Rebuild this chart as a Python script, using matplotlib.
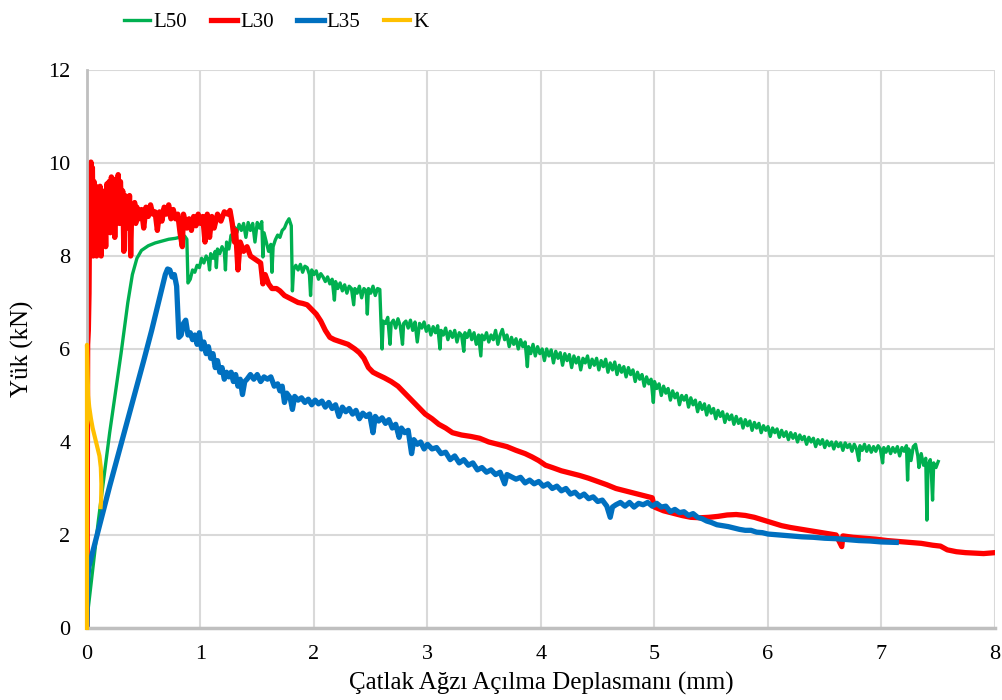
import matplotlib.pyplot as plt

plt.rcParams['font.family'] = ['Liberation Serif', 'DejaVu Serif']

# L30 (red)
l30_x = [0.000, 0.003, 0.006, 0.012, 0.018, 0.022, 0.028, 0.035, 0.042, 0.048,
         0.055, 0.062, 0.070, 0.078, 0.085, 0.095, 0.105, 0.115, 0.125, 0.135,
         0.145, 0.155, 0.165, 0.175, 0.185, 0.195, 0.205, 0.215, 0.225, 0.235,
         0.245, 0.255, 0.265, 0.275, 0.285, 0.295, 0.305, 0.315, 0.325, 0.335,
         0.345, 0.355, 0.365, 0.375, 0.385, 0.395, 0.41, 0.42, 0.43, 0.44,
         0.46, 0.48, 0.50, 0.52, 0.54, 0.56, 0.58, 0.60, 0.62, 0.64,
         0.66, 0.68, 0.70, 0.72, 0.74, 0.76, 0.78, 0.80, 0.82, 0.84,
         0.85, 0.88, 0.90, 0.92, 0.94, 0.96, 0.98, 1.00, 1.02, 1.04,
         1.06, 1.08, 1.10, 1.12, 1.15, 1.18, 1.21, 1.24, 1.26, 1.28,
         1.30, 1.31, 1.33, 1.35, 1.38, 1.41, 1.44, 1.47, 1.50, 1.53,
         1.55, 1.57, 1.60, 1.63, 1.67, 1.70, 1.74, 1.78, 1.82, 1.86,
         1.90, 1.94, 1.98, 2.02, 2.06, 2.10, 2.14, 2.18, 2.24, 2.30,
         2.36, 2.40, 2.44, 2.48, 2.52, 2.56, 2.62, 2.68, 2.74, 2.80,
         2.86, 2.92, 2.98, 3.04, 3.10, 3.16, 3.22, 3.30, 3.38, 3.46,
         3.54, 3.62, 3.70, 3.78, 3.86, 3.92, 3.98, 4.04, 4.10, 4.18,
         4.26, 4.34, 4.42, 4.50, 4.58, 4.66, 4.74, 4.82, 4.90, 4.98,
         5.00, 5.08, 5.16, 5.24, 5.32, 5.40, 5.48, 5.56, 5.64, 5.72,
         5.80, 5.88, 5.96, 6.04, 6.12, 6.20, 6.30, 6.40, 6.50, 6.60,
         6.65, 6.66, 6.75, 6.85, 6.95, 7.05, 7.15, 7.25, 7.35, 7.45,
         7.52, 7.58, 7.66, 7.74, 7.82, 7.90, 8.00]
l30_y = [0.0, 3.0, 6.1, 6.4, 7.2, 8.6, 9.4, 10.02, 9.7, 9.9,
         8.0, 9.6, 8.3, 9.5, 8.0, 9.3, 8.8, 9.5, 8.0, 9.4,
         8.6, 9.2, 8.2, 9.55, 8.8, 9.6, 8.5, 9.7, 9.0, 9.65,
         8.4, 9.5, 9.1, 9.75, 8.7, 9.6, 9.0, 9.4, 8.1, 9.3,
         8.9, 9.2, 8.6, 9.3, 8.0, 9.1, 8.9, 9.15, 8.7, 9.05,
         8.8, 9.0, 8.6, 9.05, 8.85, 9.1, 8.9, 8.95, 8.55, 8.95,
         8.75, 9.05, 8.9, 9.1, 8.8, 9.0, 8.8, 8.9, 8.5, 8.2,
         8.9, 8.6, 8.8, 8.55, 8.85, 8.65, 8.9, 8.7, 8.85, 8.3,
         8.9, 8.4, 8.85, 8.6, 8.9, 8.75, 8.95, 8.9, 8.98, 8.7,
         8.3, 8.55, 7.7, 8.3, 8.1, 8.2, 8.0, 7.95, 7.9, 7.85,
         7.4, 7.6, 7.4, 7.3, 7.3, 7.25, 7.15, 7.1, 7.05, 7.0,
         6.98, 6.95, 6.85, 6.75, 6.6, 6.4, 6.25, 6.2, 6.15, 6.1,
         6.0, 5.92, 5.8, 5.6, 5.5, 5.45, 5.38, 5.3, 5.2, 5.05,
         4.9, 4.75, 4.6, 4.5, 4.38, 4.3, 4.2, 4.15, 4.12, 4.08,
         4.0, 3.95, 3.9, 3.82, 3.75, 3.68, 3.6, 3.5, 3.45, 3.38,
         3.33, 3.28, 3.22, 3.15, 3.08, 3.0, 2.95, 2.9, 2.85, 2.8,
         2.6, 2.52, 2.47, 2.42, 2.38, 2.37, 2.38, 2.4, 2.43, 2.44,
         2.42, 2.38, 2.32, 2.26, 2.2, 2.16, 2.12, 2.08, 2.04, 2.0,
         1.75, 1.98, 1.95, 1.93, 1.91, 1.88, 1.86, 1.84, 1.82, 1.78,
         1.76, 1.68, 1.64, 1.62, 1.61, 1.60, 1.62]

# L35 (blue)
l35_x = [0.000, 0.005, 0.015, 0.10, 0.20, 0.30, 0.40, 0.50, 0.57, 0.62,
         0.66, 0.69, 0.71, 0.73, 0.75, 0.77, 0.79, 0.80, 0.81, 0.83,
         0.85, 0.87, 0.89, 0.91, 0.93, 0.95, 0.97, 0.99, 1.01, 1.03,
         1.05, 1.07, 1.09, 1.11, 1.13, 1.15, 1.17, 1.19, 1.21, 1.23,
         1.25, 1.27, 1.29, 1.31, 1.33, 1.35, 1.37, 1.39, 1.41, 1.44,
         1.47, 1.50, 1.53, 1.56, 1.59, 1.62, 1.65, 1.68, 1.70, 1.72,
         1.74, 1.76, 1.79, 1.81, 1.83, 1.86, 1.89, 1.92, 1.95, 1.98,
         2.01, 2.04, 2.07, 2.10, 2.13, 2.16, 2.19, 2.22, 2.25, 2.28,
         2.31, 2.34, 2.37, 2.40, 2.43, 2.46, 2.49, 2.52, 2.54, 2.57,
         2.60, 2.63, 2.66, 2.69, 2.72, 2.75, 2.77, 2.80, 2.83, 2.86,
         2.88, 2.91, 2.94, 2.97, 3.00, 3.04, 3.08, 3.12, 3.16, 3.20,
         3.24, 3.28, 3.32, 3.36, 3.40, 3.44, 3.48, 3.52, 3.56, 3.60,
         3.64, 3.68, 3.70, 3.74, 3.78, 3.82, 3.86, 3.90, 3.94, 3.98,
         4.02, 4.06, 4.10, 4.14, 4.18, 4.22, 4.26, 4.30, 4.34, 4.38,
         4.42, 4.46, 4.50, 4.54, 4.58, 4.61, 4.63, 4.66, 4.70, 4.74,
         4.78, 4.82, 4.86, 4.90, 4.94, 4.98, 5.02, 5.06, 5.10, 5.14,
         5.18, 5.22, 5.26, 5.30, 5.34, 5.38, 5.42, 5.46, 5.50, 5.55,
         5.60, 5.65, 5.70, 5.75, 5.80, 5.85, 5.90, 5.95, 6.00, 6.10,
         6.20, 6.30, 6.40, 6.50, 6.60, 6.70, 6.80, 6.90, 7.00, 7.13]
l35_y = [0.0, 1.0, 1.3, 2.1, 3.05, 3.95, 4.85, 5.75, 6.4, 6.9,
         7.3, 7.6, 7.72, 7.7, 7.55, 7.6, 7.35, 6.8, 6.25, 6.3,
         6.55, 6.62, 6.3, 6.35, 6.2, 6.3, 6.1, 6.35, 6.0, 6.15,
         5.9, 6.05, 5.8, 5.9, 5.6, 5.75, 5.5, 5.6, 5.35, 5.5,
         5.4, 5.5, 5.3, 5.45, 5.2, 5.35, 5.02, 5.3, 5.35, 5.45,
         5.35, 5.45, 5.3, 5.4, 5.35, 5.4, 5.2, 5.25, 5.1, 5.2,
         4.85, 5.05, 4.95, 4.7, 4.98, 4.9, 4.95, 4.85, 4.92, 4.8,
         4.9, 4.82, 4.88, 4.75, 4.85, 4.72, 4.8, 4.55, 4.75, 4.65,
         4.72, 4.6, 4.68, 4.5, 4.62, 4.55, 4.6, 4.2, 4.55, 4.45,
         4.52, 4.4, 4.48, 4.3, 4.38, 4.1, 4.3, 4.2, 4.25, 3.75,
         4.05, 3.95, 4.0, 3.85, 3.95, 3.85, 3.88, 3.75, 3.78, 3.62,
         3.7, 3.55, 3.62, 3.5, 3.55, 3.4, 3.45, 3.35, 3.4, 3.3,
         3.35, 3.1, 3.3, 3.25, 3.2, 3.24, 3.12, 3.18, 3.1, 3.15,
         3.05, 3.1, 3.0, 3.05, 2.95, 3.0, 2.88, 2.92, 2.82, 2.88,
         2.78, 2.82, 2.72, 2.75, 2.62, 2.38, 2.6, 2.65, 2.7, 2.62,
         2.7, 2.6, 2.68, 2.65, 2.7, 2.62, 2.68, 2.6, 2.62, 2.5,
         2.55, 2.48, 2.5, 2.42, 2.46, 2.38, 2.35, 2.3, 2.27, 2.22,
         2.2, 2.18, 2.15, 2.12, 2.1, 2.1, 2.06, 2.05, 2.02, 2.0,
         1.98, 1.96, 1.95, 1.93, 1.92, 1.9, 1.88, 1.87, 1.85, 1.84]

# L50 (green)
l50_x = [0.00, 0.01, 0.10, 0.20, 0.30, 0.36, 0.40, 0.44, 0.48, 0.54,
         0.60, 0.66, 0.72, 0.78, 0.83, 0.86, 0.88, 0.89, 0.91, 0.93,
         0.95, 0.97, 0.99, 1.01, 1.03, 1.05, 1.07, 1.08, 1.09, 1.11,
         1.13, 1.14, 1.15, 1.17, 1.19, 1.21, 1.22, 1.23, 1.25, 1.27,
         1.29, 1.30, 1.32, 1.34, 1.36, 1.38, 1.40, 1.42, 1.44, 1.46,
         1.48, 1.50, 1.52, 1.54, 1.55, 1.56, 1.58, 1.60, 1.62, 1.63,
         1.64, 1.66, 1.68, 1.70, 1.72, 1.74, 1.76, 1.78, 1.80, 1.81,
         1.82, 1.84, 1.86, 1.88, 1.90, 1.92, 1.94, 1.96, 1.97, 1.98,
         2.00, 2.02, 2.04, 2.06, 2.08, 2.10, 2.12, 2.14, 2.16, 2.18,
         2.19, 2.21, 2.23, 2.25, 2.27, 2.29, 2.31, 2.33, 2.35, 2.36,
         2.38, 2.40, 2.42, 2.44, 2.46, 2.47, 2.48, 2.50, 2.52, 2.54,
         2.56, 2.58, 2.59, 2.60, 2.61, 2.63, 2.65, 2.67, 2.68, 2.70,
         2.72, 2.74, 2.76, 2.78, 2.79, 2.81, 2.83, 2.85, 2.87, 2.89,
         2.91, 2.93, 2.95, 2.97, 2.99, 3.01, 3.03, 3.05, 3.07, 3.09,
         3.11, 3.12, 3.14, 3.16, 3.18, 3.20, 3.22, 3.24, 3.26, 3.28,
         3.30, 3.32, 3.33, 3.35, 3.37, 3.39, 3.41, 3.43, 3.45, 3.47,
         3.48, 3.50, 3.52, 3.54, 3.56, 3.58, 3.60, 3.62, 3.64, 3.66,
         3.68, 3.70, 3.72, 3.74, 3.76, 3.78, 3.80, 3.82, 3.84, 3.86,
         3.88, 3.89, 3.91, 3.93, 3.95, 3.97, 3.99, 4.01, 4.03, 4.05,
         4.07, 4.09, 4.11, 4.13, 4.15, 4.17, 4.19, 4.21, 4.23, 4.25,
         4.27, 4.29, 4.31, 4.33, 4.35, 4.37, 4.39, 4.41, 4.43, 4.45,
         4.47, 4.49, 4.51, 4.53, 4.55, 4.57, 4.59, 4.61, 4.63, 4.65,
         4.67, 4.69, 4.71, 4.73, 4.75, 4.77, 4.79, 4.81, 4.83, 4.85,
         4.87, 4.89, 4.91, 4.93, 4.95, 4.97, 4.99, 5.00, 5.02, 5.04,
         5.06, 5.08, 5.10, 5.12, 5.14, 5.16, 5.18, 5.20, 5.22, 5.24,
         5.26, 5.28, 5.30, 5.32, 5.34, 5.36, 5.38, 5.40, 5.42, 5.44,
         5.46, 5.48, 5.50, 5.52, 5.54, 5.56, 5.58, 5.60, 5.62, 5.64,
         5.66, 5.68, 5.70, 5.72, 5.74, 5.76, 5.78, 5.80, 5.82, 5.84,
         5.86, 5.88, 5.90, 5.92, 5.94, 5.96, 5.98, 6.00, 6.02, 6.04,
         6.06, 6.08, 6.10, 6.12, 6.14, 6.16, 6.18, 6.20, 6.22, 6.24,
         6.26, 6.28, 6.30, 6.32, 6.34, 6.36, 6.38, 6.40, 6.42, 6.44,
         6.46, 6.48, 6.50, 6.52, 6.54, 6.56, 6.58, 6.60, 6.62, 6.64,
         6.66, 6.68, 6.70, 6.72, 6.74, 6.76, 6.78, 6.80, 6.81, 6.83,
         6.85, 6.87, 6.89, 6.91, 6.93, 6.95, 6.97, 6.99, 7.01, 7.02,
         7.04, 7.06, 7.08, 7.10, 7.12, 7.14, 7.16, 7.18, 7.20, 7.22,
         7.23, 7.24, 7.26, 7.28, 7.30, 7.32, 7.33, 7.35, 7.37, 7.39,
         7.40, 7.41, 7.43, 7.44, 7.45, 7.46, 7.48, 7.50]
l50_y = [0.0, 0.4, 2.3, 4.2, 5.9, 7.0, 7.6, 7.95, 8.12, 8.22,
         8.28, 8.32, 8.36, 8.38, 8.41, 8.43, 8.36, 7.42, 7.5, 7.7,
         7.65, 7.8, 7.75, 7.95, 7.85, 8.0, 7.9, 7.7, 8.05, 7.95,
         8.1, 7.75, 8.15, 8.05, 8.2, 8.1, 7.7, 8.3, 8.15, 8.45,
         8.35, 8.62, 8.5, 8.68, 8.55, 8.7, 8.4, 8.72, 8.55, 8.7,
         8.3, 8.72, 8.6, 8.74, 7.98, 8.5, 8.3, 8.1, 8.25, 7.65,
         8.2, 8.35, 8.45, 8.4, 8.55, 8.6, 8.72, 8.8, 8.65, 7.25,
         7.7, 7.8, 7.7, 7.82, 7.65, 7.78, 7.75, 7.6, 7.15, 7.7,
         7.6, 7.68, 7.5, 7.62, 7.55, 7.45, 7.55, 7.4, 7.5, 7.05,
         7.45, 7.3, 7.42, 7.25, 7.38, 7.2, 7.35, 7.3, 6.95, 7.3,
         7.2, 7.35, 7.1, 7.3, 7.25, 6.75, 7.3, 7.2, 7.35, 7.15,
         7.3, 7.28, 6.6, 6.0, 6.6, 6.55, 6.68, 6.1, 6.55, 6.62,
         6.45, 6.65, 6.5, 6.1, 6.55, 6.6, 6.45, 6.62, 6.4, 6.58,
         6.15, 6.55, 6.45, 6.58, 6.38, 6.5, 6.3, 6.48, 6.35, 6.5,
         6.0, 6.4, 6.3, 6.45, 6.2, 6.38, 6.25, 6.4, 6.15, 6.35,
         6.3, 5.95, 6.35, 6.25, 6.4, 6.2, 6.35, 6.1, 6.3, 5.85,
         6.3, 6.2, 6.35, 6.15, 6.3, 6.2, 6.4, 6.1, 6.3, 6.42,
         6.2, 6.3, 6.05, 6.25, 6.1, 6.22, 6.0, 6.2, 6.05, 6.15,
         5.62, 6.05, 5.9, 6.1, 5.85, 6.05, 5.9, 6.0, 5.75, 6.0,
         5.85, 5.98, 5.7, 5.95, 5.8, 5.92, 5.65, 5.9, 5.75, 5.88,
         5.6, 5.85, 5.7, 5.82, 5.55, 5.8, 5.7, 5.85, 5.6, 5.78,
         5.65, 5.8, 5.55, 5.75, 5.62, 5.78, 5.5, 5.7, 5.55, 5.72,
         5.45, 5.65, 5.5, 5.62, 5.4, 5.6, 5.45, 5.55, 5.3, 5.5,
         5.35, 5.45, 5.2, 5.4, 5.25, 5.35, 4.85, 5.3, 5.15, 5.25,
         5.0, 5.2, 5.05, 5.15, 4.9, 5.1, 4.95, 5.05, 4.8, 5.0,
         4.9, 5.0, 4.75, 4.95, 4.8, 4.9, 4.65, 4.85, 4.7, 4.82,
         4.58, 4.78, 4.62, 4.72, 4.5, 4.68, 4.55, 4.65, 4.42, 4.6,
         4.48, 4.58, 4.38, 4.55, 4.4, 4.5, 4.3, 4.48, 4.35, 4.45,
         4.25, 4.42, 4.3, 4.4, 4.2, 4.35, 4.25, 4.33, 4.12, 4.3,
         4.2, 4.28, 4.1, 4.25, 4.12, 4.22, 4.05, 4.2, 4.08, 4.18,
         4.0, 4.15, 4.05, 4.12, 3.95, 4.1, 4.0, 4.08, 3.9, 4.05,
         3.95, 4.05, 3.88, 4.02, 3.92, 4.0, 3.85, 4.0, 3.9, 3.98,
         3.82, 3.98, 3.88, 3.95, 3.8, 3.95, 3.85, 3.6, 3.92, 3.82,
         3.95, 3.8, 3.92, 3.78, 3.9, 3.8, 3.92, 3.85, 3.55, 3.88,
         3.78, 3.9, 3.75, 3.88, 3.78, 3.9, 3.7, 3.88, 3.8, 3.92,
         3.18, 3.85, 3.6, 3.9, 3.95, 3.7, 3.45, 3.75, 3.5, 3.65,
         2.32, 3.5, 3.62, 3.3, 2.75, 3.55, 3.45, 3.58]

# K (yellow)
k_x = [0.0, 0.0, 0.003, 0.006, 0.01, 0.02, 0.035, 0.05, 0.07, 0.09,
       0.11, 0.122, 0.127, 0.125, 0.12]
k_y = [0.0, 6.09, 5.8, 5.4, 5.0, 4.75, 4.5, 4.3, 4.1, 3.9,
       3.7, 3.45, 3.1, 2.75, 2.6]

fig = plt.figure(figsize=(10.02, 7.0), dpi=100)
ax = fig.add_axes([0.0868, 0.1029, 0.9062, 0.7971])

ax.plot(l50_x, l50_y, color='#00B050', lw=2.4, label='L50')
ax.plot(l30_x, l30_y, color='#FF0000', lw=3.8, label='L30')
ax.plot(l35_x, l35_y, color='#0070C0', lw=3.8, label='L35')
ax.plot(k_x, k_y, color='#FFC000', lw=3.0, label='K', clip_on=False, zorder=5)

ax.set_xlim(0, 8)
ax.set_ylim(0, 12)
ax.set_xticks(range(0, 9))
ax.set_yticks(range(0, 13, 2))
ax.grid(True, color='#D9D9D9', lw=1.5)
ax.set_axisbelow(True)
for s in ['top', 'right']:
    ax.spines[s].set_visible(False)
ax.spines['left'].set_color('#BFBFBF')
ax.spines['left'].set_linewidth(2)
ax.spines['bottom'].set_color('#BFBFBF')
ax.spines['bottom'].set_linewidth(2.5)
ax.tick_params(length=0, labelsize=16, pad=12)

ax.set_xlabel('Çatlak Ağzı Açılma Deplasmanı (mm)', fontsize=18, labelpad=6)
ax.set_ylabel('Yük (kN)', fontsize=18, labelpad=10)

fig.legend(loc='center left', bbox_to_anchor=(0.105, 0.968), ncol=4,
           frameon=False, fontsize=15, handlelength=1.25, handletextpad=0.15,
           columnspacing=1.15)

fig.savefig('out.png', dpi=100)
